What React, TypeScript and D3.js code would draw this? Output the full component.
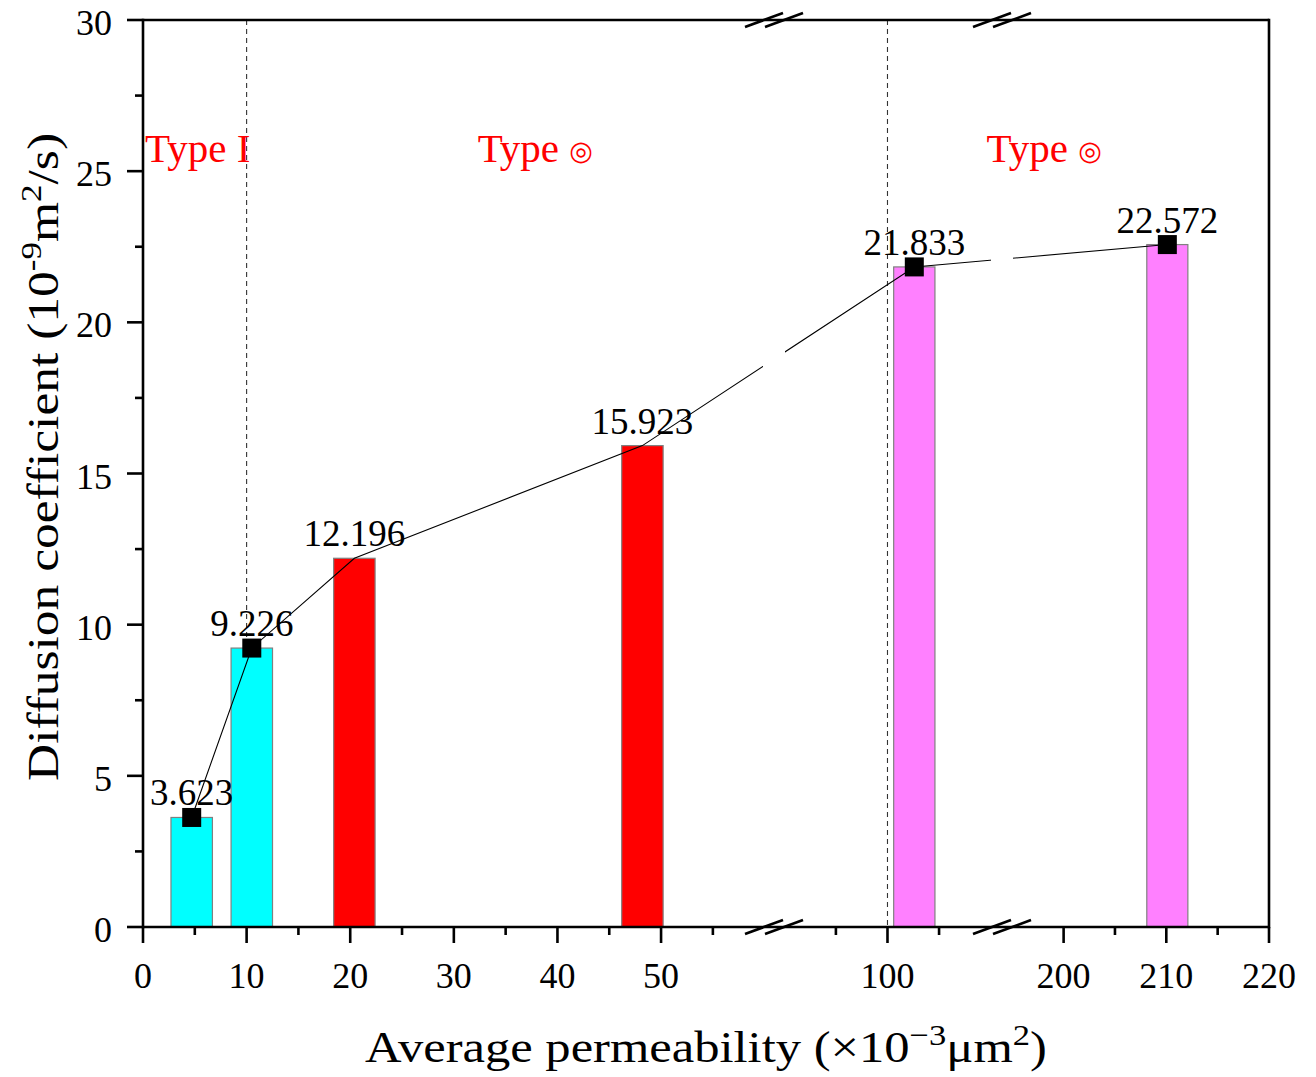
import React from "react";
import * as d3 from "d3";

// Measured samples: average permeability (×10⁻³ μm²) and diffusion coefficient (10⁻⁹ m²/s)
const permeability = [4.7, 10.5, 20.4, 48.2, 102.6, 210.1];
const diffusion = [3.623, 9.226, 12.196, 15.923, 21.833, 22.572];
const sampleType = ["I", "I", "II", "II", "III", "III"];
// points of the trend line that carry a square marker
const markedPoints = [0, 1, 4, 5];

const typeColors: Record<string, string> = { I: "#00FFFF", II: "#FF0000", III: "#FF80FF" };
const typeLabels = [
  { text: "Type I", symbol: "", at: 0.2 },
  { text: "Type ", symbol: "◎", at: 32.3 },
  { text: "Type ", symbol: "◎", at: 109.6 },
];

// broken x axis: [0, 60.9] | [89, 111.1] | [194, 220]
const xDomain = [0, 60.9, 89.0, 111.1, 194.0, 220];
const xBreaks = [60.9, 111.1];
const xMajorTicks = [0, 10, 20, 30, 40, 50, 100, 200, 210, 220];
const xMinorTicks = [5, 15, 25, 35, 45, 55, 95, 105, 205, 215];
const dividerLines = [10, 100];

const yMajorTicks = [0, 5, 10, 15, 20, 25, 30];
const yMinorTicks = [2.5, 7.5, 12.5, 17.5, 22.5, 27.5];

const W = 1316;
const H = 1077;
const L = 143, R = 1269, T = 20, B = 927;
const BREAK_X1 = 774, BREAK_X2 = 1002;
const FONT = "'Liberation Serif', 'DejaVu Serif', serif";

export default function App() {
  const x = d3
    .scaleLinear()
    .domain(xDomain)
    .range([L, BREAK_X1, BREAK_X1, BREAK_X2, BREAK_X2, R]);
  const y = d3.scaleLinear().domain([0, 30]).range([B, T]);

  const barHalf = 2; // bar half-width in permeability units
  const pts: [number, number][] = permeability.map((p, i) => [x(p), y(diffusion[i])]);
  const line = d3.line()(pts) || "";

  const gap = 11;
  const breakPx = xBreaks.map((b) => x(b));

  const breakMark = (cx: number, cy: number, key: string) => (
    <g key={key} stroke="#000" strokeWidth={2.6}>
      {[-10, 10].map((o) => (
        <line key={o} x1={cx + o - 19} y1={cy + 7} x2={cx + o + 19} y2={cy - 7} />
      ))}
    </g>
  );

  return (
    <svg
      width={W}
      height={H}
      style={{ position: "absolute", left: 0, top: 0, background: "#fff" }}
      fontFamily={FONT}
    >
      <defs>
        <clipPath id="lineGaps">
          <rect x={0} y={0} width={breakPx[0] - gap} height={H} />
          <rect x={breakPx[0] + gap} y={0} width={breakPx[1] - breakPx[0] - 2 * gap} height={H} />
          <rect x={breakPx[1] + gap} y={0} width={W - breakPx[1] - gap} height={H} />
        </clipPath>
      </defs>

      {/* type dividers */}
      {dividerLines.map((v) => (
        <line
          key={v}
          x1={x(v)}
          x2={x(v)}
          y1={T}
          y2={B}
          stroke="#333"
          strokeWidth={1.1}
          strokeDasharray="5 4"
        />
      ))}

      {/* bars */}
      {permeability.map((p, i) => {
        const x0 = x(p - barHalf);
        const x1 = x(p + barHalf);
        return (
          <rect
            key={i}
            x={x0}
            y={y(diffusion[i])}
            width={x1 - x0}
            height={B - y(diffusion[i])}
            fill={typeColors[sampleType[i]]}
            stroke="#808080"
            strokeWidth={1.2}
          />
        );
      })}

      {/* trend line */}
      <path d={line} fill="none" stroke="#000" strokeWidth={1.1} clipPath="url(#lineGaps)" />
      {markedPoints.map((i) => (
        <rect key={i} x={pts[i][0] - 9.5} y={pts[i][1] - 9.5} width={19} height={19} fill="#000" />
      ))}

      {/* value labels */}
      {permeability.map((p, i) => (
        <text key={i} x={x(p)} y={y(diffusion[i]) - 12} textAnchor="middle" fontSize={37} fill="#000">
          {diffusion[i].toFixed(3)}
        </text>
      ))}

      {/* type labels */}
      {typeLabels.map((t, i) => (
        <text key={i} x={x(t.at)} y={162} fontSize={41} fill="#FF0000">
          {t.text}
          {t.symbol && (
            <tspan fontSize={27} fontFamily="'DejaVu Sans', sans-serif" dy={-2}>
              {t.symbol}
            </tspan>
          )}
        </text>
      ))}

      {/* frame */}
      <g stroke="#000" strokeWidth={2.6} fill="none">
        <line x1={L} x2={R} y1={T} y2={T} />
        <line x1={L} x2={R} y1={B} y2={B} />
        <line x1={L} x2={L} y1={T - 1.3} y2={B + 1.3} />
        <line x1={R} x2={R} y1={T - 1.3} y2={B + 1.3} />
      </g>

      {/* x ticks */}
      <g stroke="#000" strokeWidth={2.6}>
        {xMajorTicks.map((v) => (
          <line key={v} x1={x(v)} x2={x(v)} y1={B} y2={B + 16} />
        ))}
        {xMinorTicks.map((v) => (
          <line key={v} x1={x(v)} x2={x(v)} y1={B} y2={B + 8} />
        ))}
      </g>
      {xMajorTicks.map((v) => (
        <text key={v} x={x(v)} y={988} textAnchor="middle" fontSize={36} fill="#000">
          {v}
        </text>
      ))}

      {/* y ticks */}
      <g stroke="#000" strokeWidth={2.6}>
        {yMajorTicks.map((v) => (
          <line key={v} x1={L - 16} x2={L} y1={y(v)} y2={y(v)} />
        ))}
        {yMinorTicks.map((v) => (
          <line key={v} x1={L - 8} x2={L} y1={y(v)} y2={y(v)} />
        ))}
      </g>
      {yMajorTicks.map((v) => (
        <text key={v} x={L - 31} y={y(v) + 15} textAnchor="end" fontSize={36} fill="#000">
          {v}
        </text>
      ))}

      {/* axis breaks */}
      {breakPx.map((bx, i) => (
        <g key={i}>
          {breakMark(bx, T, "t" + i)}
          {breakMark(bx, B, "b" + i)}
        </g>
      ))}

      {/* axis titles */}
      <text
        transform="translate(706, 1062) scale(1.15, 1)"
        textAnchor="middle"
        fontSize={44}
        fill="#000"
      >
        Average permeability (×10
        <tspan dy={-17} fontSize={30}>−3</tspan>
        <tspan dy={17}>μm</tspan>
        <tspan dy={-17} fontSize={30}>2</tspan>
        <tspan dy={17}>)</tspan>
      </text>
      <text
        transform={`translate(58, 457) rotate(-90) scale(1.17, 1)`}
        textAnchor="middle"
        fontSize={44}
        fill="#000"
      >
        Diffusion coefficient (10
        <tspan dy={-17} fontSize={30}>-9</tspan>
        <tspan dy={17}>m</tspan>
        <tspan dy={-17} fontSize={30}>2</tspan>
        <tspan dy={17}>/s)</tspan>
      </text>
    </svg>
  );
}
